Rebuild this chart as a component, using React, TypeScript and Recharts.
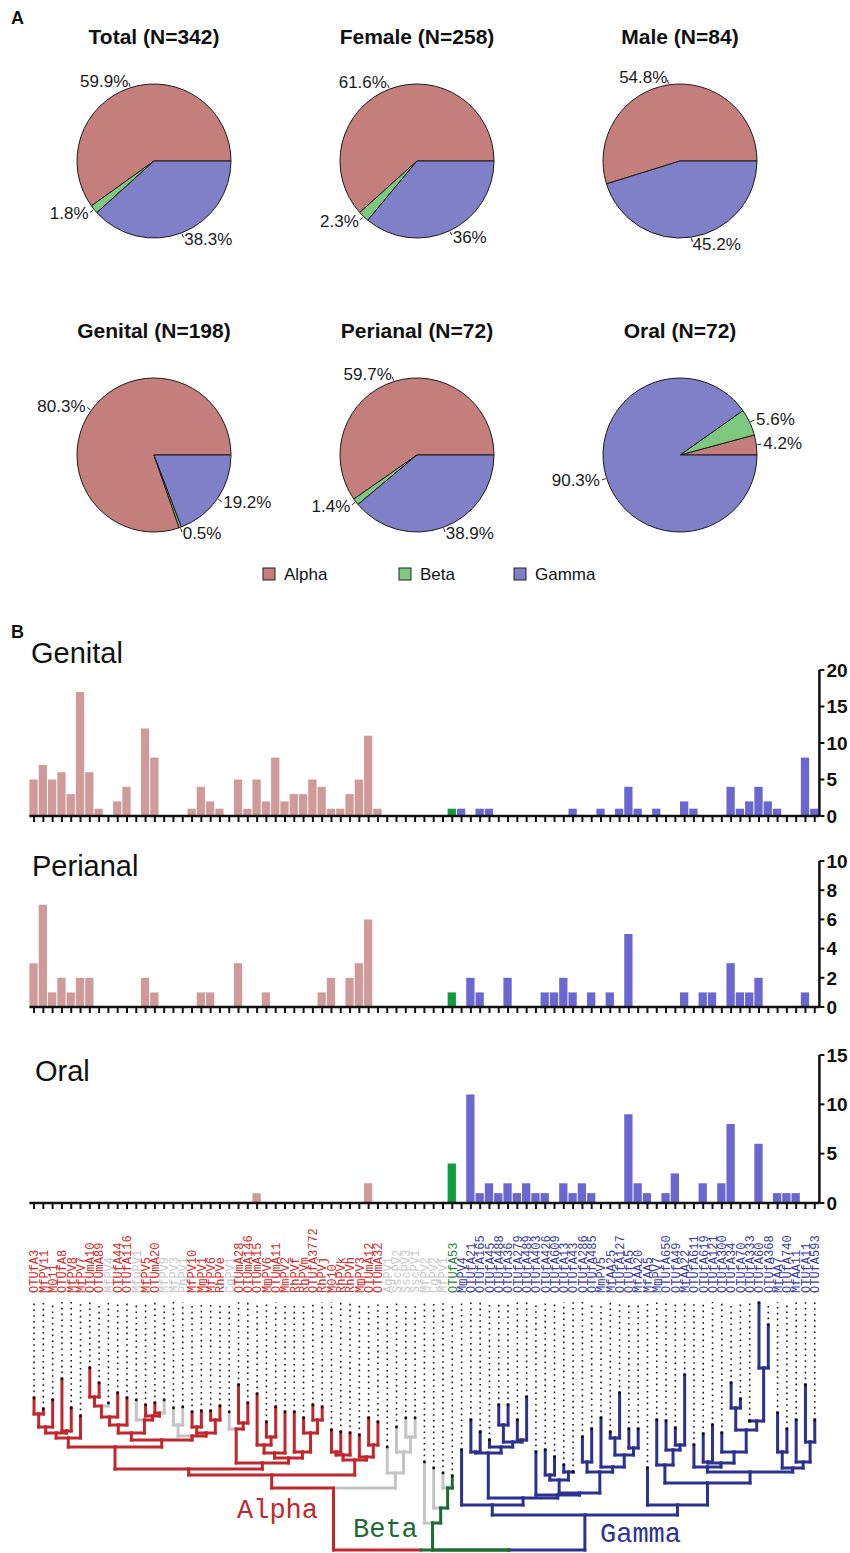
import React from 'react';
import { PieChart, Pie, Cell, BarChart, Bar, XAxis, YAxis, ScatterChart, Scatter, ReferenceLine } from 'recharts';

const FONT = '"Liberation Sans", Arial, Helvetica, sans-serif';
const MONO = '"Liberation Mono", "DejaVu Sans Mono", monospace';

// ---- panel A: pies ----
const pieTitles = ['Total (N=342)', 'Female (N=258)', 'Male (N=84)', 'Genital (N=198)', 'Perianal (N=72)', 'Oral (N=72)'];
const alphaPct = [59.9, 61.6, 54.8, 80.3, 59.7, 4.2];
const betaPct = [1.8, 2.3, 0, 0.5, 1.4, 5.6];
const gammaPct = [38.3, 36, 45.2, 19.2, 38.9, 90.3];
const genusNames = ['Alpha', 'Beta', 'Gamma'];
const pieColors = ['#c47e7c', '#7fc87f', '#8080c8'];

// ---- panel B: counts per type ----
const taxa = ['OTUfA3', 'MfPV11', 'M011', 'OTUfA8', 'MfPV8', 'MfPV7', 'OTUmA10', 'OTUmA89', 'MfPV4', 'OTUfA44',
  'OTUfA116', 'MfuPV1', 'MfPV5', 'OTUmA20', 'MfPV9', 'MfPV3', 'PhPV1', 'MfPV10', 'MmPV1', 'MfPV6',
  'RhPVe', 'CgPV1', 'OTUmA28', 'OTUmA146', 'OTUmA15', 'MmPV6', 'OTUmA11', 'MmPV2', 'RhPVf', 'RhPVm',
  'OTUfA3772', 'RhPVj', 'M010', 'RhPVk', 'RhPVh', 'MmPV3', 'OTUmA12', 'OTUmA32', 'AgPV1', 'SscPV2',
  'SscPV3', 'SscPV1', 'MfPV2', 'CgPV2', 'MfPV1', 'OTUfA53', 'MmPV4', 'OTUfA21', 'OTUfA165', 'OTUfA45',
  'OTUfA488', 'OTUfA36', 'OTUfA279', 'OTUfA489', 'OTUfA403', 'OTUfA426', 'OTUfA609', 'OTUfA13', 'OTUfA43', 'OTUfA286',
  'OTUfA485', 'MmPV5', 'MfAA25', 'OTUfA127', 'OTUfA5', 'MfAA20', 'MfAA5', 'MmPV7', 'OTUfA650', 'OTUfA49',
  'MfAA22', 'OTUfA611', 'OTUfA619', 'OTUfA121', 'OTUfA300', 'OTUfA34', 'OTUfA70', 'OTUfA333', 'OTUfA60', 'OTUfA368',
  'MfAA7', 'OTUfA740', 'MfAA11', 'OTUfA11', 'OTUfA593'];

// a = alpha, n = unassigned (grey), b = beta, g = gamma
const clade = ('aaaaaaaa' + 'n' + 'aa' + 'n' + 'aa' + 'nnn' + 'aaaa' + 'n' + 'aaaaaaaaaaaaaaaa' + 'nnnnnnn' + 'b' +
  'ggggggggggggggggggggggggggggggggggggggg').split('');

const genital = [5, 7, 5, 6, 3, 17, 6, 1, 0, 2,
  4, 0, 12, 8, 0, 0, 0, 1, 4, 2,
  1, 0, 5, 1, 5, 2, 8, 2, 3, 3,
  5, 4, 1, 1, 3, 5, 11, 1, 0, 0,
  0, 0, 0, 0, 0, 1, 1, 0, 1, 1,
  0, 0, 0, 0, 0, 0, 0, 0, 1, 0,
  0, 1, 0, 1, 4, 1, 0, 1, 0, 0,
  2, 1, 0, 0, 0, 4, 1, 2, 4, 2,
  1, 0, 0, 8, 1];
const perianal = [3, 7, 1, 2, 1, 2, 2, 0, 0, 0,
  0, 0, 2, 1, 0, 0, 0, 0, 1, 1,
  0, 0, 3, 0, 0, 1, 0, 0, 0, 0,
  0, 1, 2, 0, 2, 3, 6, 0, 0, 0,
  0, 0, 0, 0, 0, 1, 0, 2, 1, 0,
  0, 2, 0, 0, 0, 1, 1, 2, 1, 0,
  1, 0, 1, 0, 5, 0, 0, 0, 0, 0,
  1, 0, 1, 1, 0, 3, 1, 1, 2, 0,
  0, 0, 0, 1, 0];
const oral = [0, 0, 0, 0, 0, 0, 0, 0, 0, 0,
  0, 0, 0, 0, 0, 0, 0, 0, 0, 0,
  0, 0, 0, 0, 1, 0, 0, 0, 0, 0,
  0, 0, 0, 0, 0, 0, 2, 0, 0, 0,
  0, 0, 0, 0, 0, 4, 0, 11, 1, 2,
  1, 2, 1, 2, 1, 1, 0, 2, 1, 2,
  1, 0, 0, 0, 9, 2, 1, 0, 1, 3,
  0, 0, 2, 0, 2, 8, 0, 0, 6, 0,
  1, 1, 1, 0, 0];

// tree: leaf tip heights and topology [nodeHeight, left, right]
const tipHeight = [1.52, 1.41, 1.50, 1.71, 1.42, 1.34, 1.82, 1.67, 1.47, 1.57,
  1.52, 1.50, 1.45, 1.47, 1.50, 1.42, 1.43, 1.38, 1.39, 1.39,
  1.44, 1.38, 1.65, 1.47, 1.56, 1.28, 1.43, 1.38, 1.38, 1.32,
  1.45, 1.43, 1.20, 1.18, 1.17, 1.15, 1.32, 1.28, 1.03, 1.23,
  1.32, 1.32, 0.88, 0.82, 0.77, 0.74, 1.00, 1.30, 1.18, 1.10,
  1.45, 1.45, 1.30, 1.53, 0.98, 1.00, 0.93, 0.85, 0.78, 1.13,
  1.21, 1.32, 1.18, 1.57, 1.21, 1.21, 0.82, 1.30, 1.29, 1.22,
  1.75, 1.05, 1.16, 1.25, 1.17, 1.67, 1.51, 1.29, 2.47, 2.25,
  1.37, 1.21, 1.30, 1.65, 1.30];

type TNode = number | [number, TNode, TNode];
const alphaLeft: TNode = [1.12, [1.17, [1.23, [1.36, 0, 1], 2], [1.19, 3, 4]], 5];
const alphaMid: TNode = [1.10,
  [1.17, [1.25, [1.33, [1.44, [1.53, 6, 7], 8], 9], 10], [1.30, 11, [1.34, 12, [1.37, 13, 14]]]],
  [1.14, [1.25, 15, 16], [1.17, [1.23, 17, 18], [1.30, 19, 20]]]];
const alphaR1: TNode = [0.87, [1.21, 21, [1.27, 22, 23]],
  [0.92, [0.97, [1.05, 24, [1.13, 25, 26]], 27], [0.98, 28, [1.17, 29, [1.30, 30, 31]]]]];
const alphaR2: TNode = [0.90, [0.95, [0.98, 32, 33], 34], [0.93, 35, [1.05, 36, 37]]];
const unassigned: TNode = [0.77, 38, [0.98, 39, [1.13, 40, 41]]];
const alphaTree: TNode = [0.62, [0.75, [0.81, [1.03, alphaLeft, alphaMid], alphaR1], alphaR2], unassigned];
const betaTree: TNode = [0.27, 42, [0.42, 43, [0.62, 44, 45]]];
const gammaLeft: TNode = [0.45, 46, [0.52,
  [0.97, [0.98, 47, 48], [1.03, 49, [1.08, [1.25, 50, 51], [1.10, 52, 53]]]],
  [0.55, 54, [0.57, [0.70, [0.75, 55, 56], [0.78, 57, 58]],
    [0.78, [0.88, 59, 60], [0.83, 61, [0.95, [1.12, 62, 63], [1.02, 64, 65]]]]]]]];
const gammaRight: TNode = [0.45, 66, [0.67, [0.85, 67, [1.00, 68, [1.05, 69, 70]]],
  [0.78, [0.83, 71, [0.87, [0.88, 72, 73], [0.98, 74, [1.20, [1.42, 75, 76], [1.29, 77, [1.82, 78, 79]]]]]],
    [0.82, [0.98, 80, 81], [0.88, 82, [1.08, 83, 84]]]]]];
const tree: TNode = [0, alphaTree, [0, betaTree, [0.35, gammaLeft, gammaRight]]];

const barFill: Record<string, string> = { a: '#cf9a9a', n: '#cf9a9a', b: '#0f9b3e', g: '#6b67d0' };
const labelFill: Record<string, string> = { a: '#d22b2b', n: '#c8c8c8', b: '#1f8a3a', g: '#3a3d9c' };
const treeFill: Record<string, string> = { a: '#c1272d', n: '#c4c4c4', b: '#1c6b33', g: '#2d3190' };
const taxonIndex: Record<string, number> = {};
taxa.forEach((t, i) => { taxonIndex[t] = i; });

const RAD = Math.PI / 180;
function PctLabel(props: any) {
  const { cx, cy, midAngle, outerRadius, value } = props;
  if (!value) return null;
  const c = Math.cos(-midAngle * RAD);
  const s = Math.sin(-midAngle * RAD);
  return (
    <g>
      <line x1={cx + (outerRadius + 1) * c} y1={cy + (outerRadius + 1) * s} x2={cx + (outerRadius + 5) * c}
        y2={cy + (outerRadius + 5) * s} stroke="#222" strokeWidth={1} />
      <text x={cx + (outerRadius + 7) * c} y={cy + (outerRadius + 7) * s} textAnchor={c >= 0 ? 'start' : 'end'}
        dominantBaseline="central" fontFamily={FONT} fontSize={17} fill="#1a1a1a">{value}%</text>
    </g>
  );
}

const pieCx = [154, 417, 680];
const pieCy = [161, 455];

function GenusPie({ i }: { i: number }) {
  const data = genusNames.map((name, j) => ({ name, value: [alphaPct, betaPct, gammaPct][j][i] }));
  const cx = pieCx[i % 3];
  const cy = pieCy[Math.floor(i / 3)];
  return (
    <div style={{ position: 'absolute', left: cx - 150, top: cy - 120 }}>
      <PieChart width={300} height={240}>
        <Pie data={data} dataKey="value" cx="50%" cy="50%" outerRadius={77} startAngle={0} endAngle={360}
          stroke="#1a1a1a" strokeWidth={1} label={PctLabel} labelLine={false} isAnimationActive={false}>
          {data.map((d, j) => <Cell key={d.name} fill={pieColors[j]} />)}
        </Pie>
      </PieChart>
    </div>
  );
}

const EmptyTick = () => <g />;

function TaxonTick(props: any) {
  const { x, y, payload } = props;
  const k = taxonIndex[payload.value];
  const ty = y + 82;
  return (
    <text x={x} y={ty} transform={`rotate(-90, ${x}, ${ty})`} dy="0.36em" textAnchor="start"
      fontFamily={MONO} fontSize={12} fill={labelFill[clade[k]]}>{payload.value}</text>
  );
}

function CountPanel({ top, values, max, ticks, plotH, labels }: { top: number; values: number[]; max: number; ticks: number[]; plotH: number; labels?: boolean }) {
  const rows = taxa.map((name, i) => ({ name, v: values[i] }));
  const axisH = labels ? 95 : 10;
  return (
    <div style={{ position: 'absolute', left: 0, top }}>
      <BarChart width={850} height={10 + plotH + axisH} data={rows} margin={{ top: 10, right: 0, bottom: 0, left: 29.4 }} barSize={8.3}>
        <XAxis dataKey="name" interval={0} height={axisH} axisLine={{ stroke: '#111', strokeWidth: 2.5 }}
          tickLine={{ stroke: '#111', strokeWidth: 2 }} tickSize={6} tick={labels ? TaxonTick : EmptyTick} />
        <YAxis orientation="right" width={30.6} domain={[0, max]} ticks={ticks} interval={0}
          axisLine={{ stroke: '#111', strokeWidth: 2.5 }} tickLine={{ stroke: '#111', strokeWidth: 2 }} tickSize={5} tickMargin={2}
          tick={{ fontFamily: FONT, fontSize: 19, fontWeight: 700, fill: '#111' }} />
        <Bar dataKey="v" isAnimationActive={false}>
          {rows.map((r, i) => <Cell key={r.name} fill={barFill[clade[i]]} />)}
        </Bar>
      </BarChart>
    </div>
  );
}

interface Seg { x1: number; y1: number; x2: number; y2: number; color: string }
function layoutTree(n: TNode, segs: Seg[]): { x: number; h: number; color: string } {
  if (typeof n === 'number') return { x: n, h: tipHeight[n], color: treeFill[clade[n]] };
  const [h, l, r] = n;
  const a = layoutTree(l, segs);
  const b = layoutTree(r, segs);
  const x = (a.x + b.x) / 2;
  [a, b].forEach((c) => {
    segs.push({ x1: c.x, y1: c.h, x2: c.x, y2: h, color: c.color });
    segs.push({ x1: c.x, y1: h, x2: x, y2: h, color: c.color });
  });
  let color = treeFill.a;
  if (a.color === b.color) color = a.color;
  else if (a.color === treeFill.b || b.color === treeFill.b) color = treeFill.b;
  return { x, h, color };
}

function Dendrogram() {
  const segs: Seg[] = [];
  layoutTree(tree, segs);
  const tips = tipHeight.map((h, k) => ({ x: k, y: h }));
  return (
    <div style={{ position: 'absolute', left: 0, top: 1295 }}>
      <ScatterChart width={850} height={260} margin={{ top: 5, right: 30.6, bottom: 5, left: 29.4 }}>
        <XAxis type="number" dataKey="x" domain={[-0.5, 84.5]} hide />
        <YAxis type="number" dataKey="y" domain={[0, 2.5]} hide />
        {tips.map((t) => (
          <ReferenceLine key={`d${t.x}`} segment={[{ x: t.x, y: t.y }, { x: t.x, y: 2.48 }]} stroke="#1a1a1a"
            strokeWidth={1.6} strokeDasharray="1.6 4.2" ifOverflow="visible" />
        ))}
        {segs.map((s, i) => (
          <ReferenceLine key={`s${i}`} segment={[{ x: s.x1, y: s.y1 }, { x: s.x2, y: s.y2 }]} stroke={s.color}
            strokeWidth={3} strokeLinecap="square" ifOverflow="visible" />
        ))}
        <Scatter data={tips} fill="#111" isAnimationActive={false}
          shape={(p: any) => <circle cx={p.cx} cy={p.cy} r={1.4} fill="#111" />} />
      </ScatterChart>
    </div>
  );
}

export default function App() {
  return (
    <div style={{ position: 'absolute', left: 0, top: 0, width: 850, height: 1553, background: '#fff', fontFamily: FONT }}>
      {pieTitles.map((t, i) => <GenusPie key={t} i={i} />)}
      <CountPanel top={660} values={genital} max={20} ticks={[0, 5, 10, 15, 20]} plotH={146} />
      <CountPanel top={851} values={perianal} max={10} ticks={[0, 2, 4, 6, 8, 10]} plotH={146} />
      <CountPanel top={1045} values={oral} max={15} ticks={[0, 5, 10, 15]} plotH={148} labels />
      <Dendrogram />
      <svg width={850} height={1553} style={{ position: 'absolute', left: 0, top: 0, pointerEvents: 'none' }}>
        <text x={11} y={24} fontFamily={FONT} fontWeight={700} fontSize={18} fill="#111">A</text>
        <text x={11} y={638} fontFamily={FONT} fontWeight={700} fontSize={18} fill="#111">B</text>
        {pieTitles.map((t, i) => (
          <text key={t} x={pieCx[i % 3]} y={i < 3 ? 44 : 338} textAnchor="middle" fontFamily={FONT}
            fontWeight={700} fontSize={21} fill="#111">{t}</text>
        ))}
        {genusNames.map((g, j) => (
          <g key={g}>
            <rect x={[263, 399, 514][j]} y={568} width={12} height={12} fill={pieColors[j]} stroke="#222" strokeWidth={1} />
            <text x={[284, 420, 535][j]} y={580} fontFamily={FONT} fontSize={17} fill="#111">{g}</text>
          </g>
        ))}
        <text x={31} y={663} fontFamily={FONT} fontSize={29} fill="#111">Genital</text>
        <text x={32} y={876} fontFamily={FONT} fontSize={29} fill="#111">Perianal</text>
        <text x={35} y={1081} fontFamily={FONT} fontSize={29} fill="#111">Oral</text>
        <text x={237} y={1518} fontFamily={MONO} fontSize={27} fill={treeFill.a}>Alpha</text>
        <text x={353} y={1537} fontFamily={MONO} fontSize={27} fill={treeFill.b}>Beta</text>
        <text x={600} y={1542} fontFamily={MONO} fontSize={27} fill={treeFill.g}>Gamma</text>
      </svg>
    </div>
  );
}
